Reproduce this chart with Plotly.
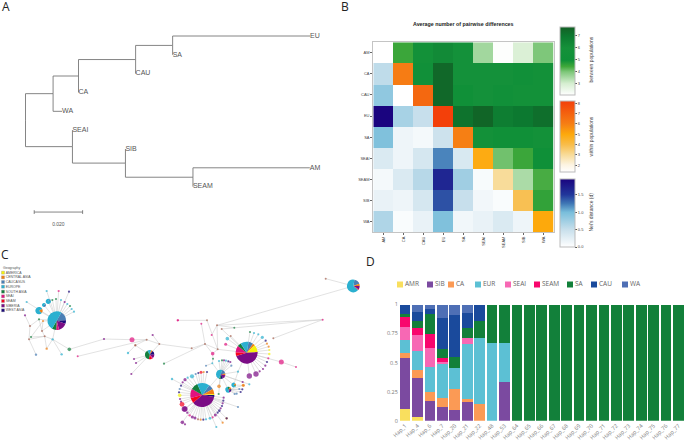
import plotly.graph_objects as go

W, H = 685, 440

def dx(a, b):
    return [a / W, b / W]

def dy(a, b):
    return [1 - b / H, 1 - a / H]

# ---------- Panel A: phylogram ----------
TREE_NAMES = ["root", "n1", "n2", "n3", "n4", "EU", "SA", "CAU", "CA", "WA",
              "n5", "SEAI", "n6", "SIB", "n7", "AM", "SEAM"]
TREE_PARENT = [None, "root", "n1", "n2", "n3", "n4", "n4", "n3", "n2", "n1",
               "root", "n5", "n5", "n6", "n6", "n7", "n7"]
TREE_LENGTH = [0, 0.0114, 0.0105, 0.0236, 0.0153, 0.0568, 0, 0, 0, 0.0037,
               0.0194, 0, 0.0219, 0, 0.0279, 0.0483, 0]
TIP_ORDER = ["EU", "SA", "CAU", "CA", "WA", "SEAI", "SIB", "AM", "SEAM"]

# ---------- Panel B: matrix ----------
POPS = ["AM", "CA", "CAU", "EU", "SA", "SEAI", "SEAM", "SIB", "WA"]
BETWEEN = [
    [None, 4.5, 5.6, 6.3, 5.9, 3.6, 2.1, 2.9, 4.0],
    [None, None, 5.3, 7.5, 5.8, 5.8, 5.9, 5.4, 5.6],
    [None, None, None, 7.5, 5.2, 5.9, 5.3, 5.6, 5.7],
    [None, None, None, None, 7.2, 7.6, 6.8, 7.0, 7.3],
    [None, None, None, None, None, 5.7, 5.2, 5.1, 5.6],
    [None, None, None, None, None, None, 4.1, 4.5, 5.0],
    [None, None, None, None, None, None, None, 3.5, 4.4],
    [None, None, None, None, None, None, None, None, 4.6],
    [None, None, None, None, None, None, None, None, None],
]
WITHIN = [1.35, 6.1, 6.8, 8.2, 6.0, 4.9, 3.0, 3.9, 5.0]
NEI = [
    [None] * 9,
    [0.55, None, None, None, None, None, None, None, None],
    [0.85, 0.0, None, None, None, None, None, None, None],
    [1.95, 0.70, 0.50, None, None, None, None, None, None],
    [0.95, 0.15, 0.10, 0.45, None, None, None, None, None],
    [0.33, 0.15, 0.38, 1.20, 0.35, None, None, None, None],
    [0.10, 0.33, 0.60, 1.65, 0.75, 0.07, None, None, None],
    [0.20, 0.15, 0.38, 1.40, 0.50, 0.12, 0.05, None, None],
    [0.65, 0.05, 0.20, 0.95, 0.13, 0.20, 0.33, 0.15, None],
]

# ---------- Panel D: haplotype composition ----------
HAPS = ["Hap_1", "Hap_4", "Hap_6", "Hap_7", "Hap_20", "Hap_21", "Hap_22", "Hap_48", "Hap_53",
        "Hap_64", "Hap_65", "Hap_66", "Hap_67", "Hap_68", "Hap_69", "Hap_70", "Hap_71",
        "Hap_72", "Hap_73", "Hap_74", "Hap_75", "Hap_76", "Hap_77"]
REST = [0] * 14
REST_SA = [1] * 14
AMR = [.10, .03, 0, 0, 0, 0, 0, 0, 0] + REST
SIB = [.44, .337, .166, .115, .09, .172, 0, 0, .333] + REST
CA = [.04, .066, .084, .08, .18, .011, .143, 0, 0] + REST
EUR = [.113, .163, .208, .305, .185, .473, .571, .667, .334] + REST
SEAI = [.112, .14, .167, .005, 0, .054, 0, 0, 0] + REST
SEAM = [.085, .058, .125, .035, 0, 0, 0, 0, 0] + REST
SA = [.03, .063, .167, .073, .09, .087, .143, .333, .333] + REST_SA
CAU = [.08, .08, .043, .272, .363, .128, .143, 0, 0] + REST
WA = [0, .063, .04, .115, .092, .075, 0, 0, 0] + REST
D_SERIES = [("AMR", AMR, "#f9df5e"), ("SIB", SIB, "#7b4aa0"), ("CA", CA, "#fb9a55"),
            ("EUR", EUR, "#5cc0d4"), ("SEAI", SEAI, "#f768b4"), ("SEAM", SEAM, "#f8066d"),
            ("SA", SA, "#12803a"), ("CAU", CAU, "#1a4a9c"), ("WA", WA, "#4e6fb5")]

# ---------- Panel C: haplotype network ----------
GEO = {"AM": "#f5f20b", "CE": "#f07f13", "CA": "#4a7fb5", "EU": "#2bb0d0", "SO": "#137f3d",
       "SI": "#e0127f", "SM": "#f5021e", "PU": "#7b0c85", "WE": "#1c0b7a", "BR": "#a5604f"}
GEO_NAMES = ["AMERICA", "CENTRAL ASIA", "CAUCASUS", "EUROPE", "SOUTH ASIA", "SEAI", "SEAM", "SIBERIA", "WEST ASIA"]
GEO_KEYS = ["AM", "CE", "CA", "EU", "SO", "SI", "SM", "PU", "WE"]

PIE_X = [170, 117, 132, 145, 449, 740, 607, 662, 685, 701, 1060]
PIE_Y = [227, 197, 180, 169, 329, 323, 450, 388, 434, 420, 123]
PIE_R = [28, 11, 6, 8, 14, 33, 36, 14, 9, 7, 19]
PIE_ROT = [30, 60, 60, 30, 330, 10, 35, 20, 30, 40, 10]
PIE_GEO = [
    ["CA", "WE", "PU", "SI", "SO", "EU"],
    ["CE", "EU"],
    ["CA", "EU"],
    ["CA", "EU"],
    ["EU", "CE", "WE", "PU", "SI", "SM", "SO"],
    ["CA", "CE", "AM", "PU", "SM", "SI", "SO", "EU"],
    ["CA", "CE", "AM", "WE", "PU", "SM", "SI", "SO", "EU"],
    ["CA", "CE", "PU", "WE", "SO", "EU"],
    ["CE", "WE", "PU", "EU", "SO"],
    ["CE", "SO", "EU"],
    ["CA", "CE", "PU", "SM", "EU"],
]
PIE_VAL = [
    [58, 22, 55, 18, 27, 180],
    [70, 290],
    [120, 240],
    [40, 320],
    [50, 20, 50, 45, 15, 40, 140],
    [25, 12, 40, 165, 20, 35, 20, 43],
    [25, 25, 5, 10, 130, 25, 45, 35, 60],
    [60, 20, 50, 30, 20, 180],
    [50, 40, 40, 190, 40],
    [60, 40, 260],
    [60, 20, 30, 10, 240],
]

# spokes: satellite nodes attached straight to a pie
HUB_A_X = [140, 176, 207, 194, 183, 168, 157, 202, 210, 215, 222, 80, 129, 117]
HUB_A_Y = [138, 138, 140, 171, 165, 162, 165, 177, 183, 192, 200, 171, 228, 223]
HUB_A_G = ["EU", "SI", "WE", "PU", "EU", "SO", "SO", "EU", "SO", "EU", "EU", "EU", "CE", "SO"]

HUB_C_X = [750, 762, 775, 787, 797, 801, 806, 808, 808, 805, 801, 796, 789, 779]
HUB_C_Y = [261, 264, 268, 277, 287, 296, 305, 315, 327, 340, 351, 362, 372, 379]
HUB_C_G = ["SO", "EU", "EU", "EU", "WE", "CE", "CE", "AM", "AM", "SI", "WE", "PU", "PU", "PU"]
HUB_C_S = [2.2, 2.2, 2.2, 3.2, 2.2, 2.2, 2.2, 2.2, 2.4, 2.2, 2.2, 2.2, 2.2, 2.2]

RING_X = [576, 563, 555, 548, 543, 539, 537, 539, 540, 543, 546, 553, 562, 569, 577, 585, 594, 602,
          610, 618, 630, 638, 646, 653, 658, 662, 666, 668, 670, 671, 587, 595, 603, 611, 621]
RING_Y = [394, 398, 404, 412, 422, 432, 442, 451, 462, 470, 478, 492, 503, 511, 516, 519, 523, 524,
          524, 523, 520, 517, 510, 503, 497, 490, 483, 475, 467, 458, 387, 384, 382, 381, 381]
RING_G = ["EU", "EU", "PU", "PU", "WE", "CA", "WE", "AM", "PU", "PU", "SM", "PU", "PU", "SI",
          "PU", "PU", "BR", "CE", "WE", "EU", "EU", "SI", "PU", "WE", "WE", "PU", "WE", "PU",
          "WE", "PU", "CA", "WE", "SM", "CE", "WE"]
RING_S = [4.2, 2.2, 3.2, 2.2, 2.2, 2.2, 2.2, 3.6, 2.2, 2.2, 4.8, 5.4, 2.4, 2.4, 3.2, 3, 2.2, 2.2,
          2.2, 2.2, 2.8, 2.2, 3, 2.2, 2.6, 2.2, 2.2, 2.2, 2.2, 2.2, 2.2, 2.2, 3, 2.2, 2.2]

HUB_E_X = [657, 666, 672, 678, 685, 691, 694, 714, 728, 748, 656]
HUB_E_Y = [348, 346, 346, 347, 349, 351, 362, 380, 411, 418, 447]
HUB_E_G = ["EU", "SO", "PU", "EU", "WE", "PU", "CA", "EU", "PU", "EU", "SO"]

HUB_F_X = [718, 710, 722, 727, 704, 730]
HUB_F_Y = [432, 446, 441, 433, 447, 421]
HUB_F_G = ["CA", "CA", "WE", "WE", "CA", "CE"]

HUB_M_X = [402, 408, 394, 406]
HUB_M_Y = [342, 354, 387, 301]
HUB_M_G = ["PU", "PU", "PU", "BR"]

FREE_X = [90, 93, 87, 126, 134, 158, 140, 108, 185, 208, 75, 312, 233, 396, 440, 406, 384, 458, 478,
          492, 533, 516, 977, 534, 621, 604, 651, 703, 665, 968, 635, 682, 692, 677, 820, 615, 575,
          653, 638, 639, 637, 618, 844, 888, 748, 768, 657, 730, 714, 547, 555, 649, 680, 668, 680, 555]
FREE_Y = [243, 276, 283, 258, 274, 283, 311, 329, 328, 313, 211, 282, 334, 284, 284, 301, 324, 270,
          297, 356, 226, 402, 101, 226, 226, 236, 241, 248, 252, 224, 270, 281, 273, 298, 280, 297,
          310, 313, 326, 341, 355, 362, 351, 366, 393, 387, 424, 421, 486, 532, 538, 546, 520, 533, 520, 492]
FREE_G = ["BR", "SO", "BR", "BR", "BR", "EU", "CE", "CA", "EU", "SO", "PU", "PU", "SI", "SI", "BR",
          "BR", "EU", "PU", "BR", "SO", "SI", "EU", "BR", "SI", "BR", "SI", "BR", "SO", "BR", "SI",
          "SI", "EU", "BR", "SI", "BR", "BR", "BR", "BR", "SI", "SO", "EU", "CA", "SI", "SI", "PU",
          "PU", "CE", "CE", "CA", "PU", "PU", "EU", "CE", "CE", "WE", "PU"]
FREE_S = [2.2, 2.2, 2, 2, 2, 2.4, 2.4, 2.4, 2.4, 3.6, 2.2, 2.2, 2, 5, 2, 2, 2.4, 2.2, 2, 2.2, 2.2,
          2.4, 2, 2, 2, 2, 2, 2, 2, 2, 2, 3.6, 2, 3, 2, 2, 2, 2, 3.6, 2, 2, 2, 5, 2, 5.4, 5.4, 3.6,
          3.2, 2.2, 3.6, 2.2, 2.2, 2.4, 2.2, 2.2, 5.4]

EDGE_A = [(117, 223, 90, 243), (90, 243, 87, 283), (93, 276, 129, 228), (87, 283, 134, 274), (93, 276, 134, 274),
          (134, 274, 140, 311), (87, 283, 108, 329), (134, 274, 158, 283), (158, 283, 140, 311), (158, 283, 185, 328),
          (158, 283, 208, 313), (75, 211, 90, 243), (129, 228, 126, 258), (126, 258, 117, 223), (126, 258, 134, 274),
          (170, 227, 158, 283), (170, 227, 126, 258), (208, 313, 312, 282), (312, 282, 396, 284), (396, 284, 440, 284),
          (233, 334, 440, 284), (406, 301, 440, 284), (406, 301, 384, 324), (458, 270, 478, 297), (440, 284, 478, 297),
          (449, 329, 478, 297), (170, 227, 117, 197), (170, 227, 132, 180), (170, 227, 145, 169),
          (1060, 123, 977, 101), (1060, 123, 651, 241), (651, 241, 968, 224), (665, 252, 968, 224), (968, 224, 820, 280),
          (534, 226, 621, 226), (621, 226, 653, 313), (604, 236, 615, 297), (651, 241, 653, 313), (651, 241, 635, 270),
          (651, 241, 703, 248), (665, 252, 740, 323), (615, 297, 653, 313), (575, 310, 615, 297), (478, 297, 575, 310),
          (492, 356, 615, 297), (653, 313, 740, 323), (638, 326, 653, 313), (615, 297, 638, 326), (638, 326, 639, 341),
          (639, 341, 637, 355), (637, 355, 618, 362), (637, 355, 662, 388), (662, 388, 607, 450), (662, 388, 685, 434),
          (701, 420, 662, 388), (740, 323, 714, 380), (714, 380, 701, 420), (844, 351, 888, 366), (740, 323, 844, 351),
          (516, 402, 607, 450), (607, 450, 714, 486), (607, 450, 547, 532), (547, 532, 555, 538), (607, 450, 649, 546),
          (607, 450, 680, 520), (607, 450, 668, 533), (607, 450, 555, 492), (740, 323, 748, 393), (740, 323, 768, 387),
          (662, 388, 657, 424), (701, 420, 730, 421), (740, 323, 682, 281), (740, 323, 692, 273), (740, 323, 677, 298)]

# ---------- figure ----------
fig = go.Figure()

# A
parent = dict(zip(TREE_NAMES, TREE_PARENT))
blen = dict(zip(TREE_NAMES, TREE_LENGTH))
xpos, ypos = {}, {}
for n in TREE_NAMES:
    xpos[n] = (xpos[parent[n]] if parent[n] else 0) + blen[n]
for i, t in enumerate(TIP_ORDER):
    ypos[t] = i
for n in reversed(TREE_NAMES):
    kids = [k for k in TREE_NAMES if parent[k] == n]
    if kids:
        ypos[n] = sum(ypos[k] for k in kids) / len(kids)
tx, ty = [], []
for n in TREE_NAMES:
    p = parent[n]
    if p:
        tx += [xpos[p], xpos[p], xpos[n], None]
        ty += [ypos[p], ypos[n], ypos[n], None]
fig.add_trace(go.Scatter(x=tx, y=ty, mode="lines", line=dict(color="#777777", width=0.9),
                         xaxis="x", yaxis="y", hoverinfo="skip", showlegend=False))
fig.add_trace(go.Scatter(x=[xpos[t] for t in TIP_ORDER], y=[ypos[t] for t in TIP_ORDER], mode="text",
                         text=TIP_ORDER, textposition="middle right",
                         textfont=dict(family="Liberation Sans", size=7, color="#555555"),
                         xaxis="x", yaxis="y", hoverinfo="skip", showlegend=False))
SCALE_LEN = 0.020
sby = 9.35
sbx = [0.0036, 0.0036 + SCALE_LEN]
fig.add_trace(go.Scatter(x=[sbx[0], sbx[1], None, sbx[0], sbx[0], None, sbx[1], sbx[1]],
                         y=[sby, sby, None, sby - .1, sby + .1, None, sby - .1, sby + .1],
                         mode="lines", line=dict(color="#666666", width=0.8), xaxis="x", yaxis="y",
                         hoverinfo="skip", showlegend=False))
fig.add_trace(go.Scatter(x=[sbx[0] + SCALE_LEN / 2], y=[sby + .66], mode="text", text=["0.020"],
                         textfont=dict(family="Liberation Sans", size=5, color="#555555"),
                         xaxis="x", yaxis="y", hoverinfo="skip", showlegend=False))

# B
def cbar(top, bottom, tickvals, ticktext=None):
    return dict(x=560.3 / W, xanchor="left", xpad=0, y=1 - top / H, yanchor="top", ypad=0,
                len=(bottom - top) / H, lenmode="fraction", thickness=14.7, thicknessmode="pixels",
                outlinecolor="#bbbbbb", outlinewidth=1, borderwidth=0,
                tickvals=tickvals, ticktext=ticktext, ticks="outside", ticklen=2, tickwidth=0.5,
                tickcolor="#555555", tickfont=dict(family="Liberation Sans", size=4, color="#444444"))

GREEN = [[0, "#ffffff"], [0.17, "#d5eed0"], [0.34, "#7ec77a"], [0.42, "#3fa83a"], [0.51, "#0f9038"],
         [0.69, "#15913a"], [0.86, "#0c7a30"], [1, "#135f25"]]
ORANGE = [[0, "#ffffff"], [0.10, "#fdf4e2"], [0.24, "#f8dc9a"], [0.385, "#f8bd4b"], [0.53, "#fda90c"],
          [0.68, "#f67e14"], [0.83, "#f4610f"], [1, "#f33f0a"]]
BLUE = [[0, "#ffffff"], [0.25, "#c9e0ec"], [0.51, "#79bedb"], [0.64, "#3f77b5"], [0.77, "#21379b"], [1, "#1a047f"]]

fig.add_trace(go.Heatmap(z=BETWEEN, x=POPS, y=POPS, colorscale=GREEN, zmin=2.06, zmax=7.78,
                         colorbar=cbar(26.7, 95, [3, 4, 5, 6, 7]), xaxis="x2", yaxis="y2", hoverongaps=False))
within_z = [[WITHIN[i] if i == j else None for j in range(9)] for i in range(9)]
fig.add_trace(go.Heatmap(z=within_z, x=POPS, y=POPS, colorscale=ORANGE, zmin=1.35, zmax=8.22,
                         colorbar=cbar(101, 172, [2, 3, 4, 5, 6, 7, 8]), xaxis="x2", yaxis="y2", hoverongaps=False))
fig.add_trace(go.Heatmap(z=NEI, x=POPS, y=POPS, colorscale=BLUE, zmin=0, zmax=1.95,
                         colorbar=cbar(179, 246.7, [0, 0.5, 1.0, 1.5], ["0.0", "0.5", "1.0", "1.5"]),
                         xaxis="x2", yaxis="y2", hoverongaps=False))

# C
for i in range(len(PIE_X)):
    cx, cy, r = PIE_X[i] / 3, 245 + PIE_Y[i] / 3, PIE_R[i] / 3
    fig.add_trace(go.Pie(values=PIE_VAL[i], labels=[GEO_NAMES[GEO_KEYS.index(g)] for g in PIE_GEO[i]],
                         marker=dict(colors=[GEO[g] for g in PIE_GEO[i]], line=dict(width=0)),
                         sort=False, direction="clockwise", rotation=PIE_ROT[i], textinfo="none",
                         domain=dict(x=dx(cx - r, cx + r), y=dy(cy - r, cy + r)), showlegend=False))

ex, ey = [], []
for a, b, c, d in EDGE_A:
    ex += [a, c, None]
    ey += [b, d, None]
for hub, xs, ys in [(0, HUB_A_X, HUB_A_Y), (5, HUB_C_X, HUB_C_Y), (6, RING_X, RING_Y), (7, HUB_E_X, HUB_E_Y),
                    (8, HUB_F_X, HUB_F_Y), (4, HUB_M_X, HUB_M_Y)]:
    for x, y in zip(xs, ys):
        ex += [PIE_X[hub], x, None]
        ey += [PIE_Y[hub], y, None]
fig.add_trace(go.Scatter(x=ex, y=ey, mode="lines", line=dict(color="#cfcfcf", width=0.6), xaxis="x4", yaxis="y4",
                         hoverinfo="skip", showlegend=False))
nx = HUB_A_X + HUB_C_X + RING_X + HUB_E_X + HUB_F_X + HUB_M_X + FREE_X
ny = HUB_A_Y + HUB_C_Y + RING_Y + HUB_E_Y + HUB_F_Y + HUB_M_Y + FREE_Y
ng = HUB_A_G + HUB_C_G + RING_G + HUB_E_G + HUB_F_G + HUB_M_G + FREE_G
ns = [2.2] * len(HUB_A_X) + HUB_C_S + RING_S + [2.2] * len(HUB_E_X) + [2.2] * len(HUB_F_X) + [2.2] * len(HUB_M_X) + FREE_S
fig.add_trace(go.Scatter(x=nx, y=ny, mode="markers", marker=dict(color=[GEO[g] for g in ng], size=ns, line=dict(width=0)),
                         xaxis="x4", yaxis="y4", hoverinfo="skip", showlegend=False))
# C legend
leg_y = [83, 97, 111, 125, 140, 154, 168, 182, 196]
fig.add_trace(go.Scatter(x=[9] * 9, y=leg_y, mode="markers",
                         marker=dict(symbol="square", size=3, color=[GEO[k] for k in GEO_KEYS],
                                     line=dict(color="#888888", width=0.3)),
                         xaxis="x4", yaxis="y4", hoverinfo="skip", showlegend=False))
fig.add_trace(go.Scatter(x=[17] * 9, y=leg_y, mode="text", text=GEO_NAMES, textposition="middle right",
                         textfont=dict(family="Liberation Sans", size=3.5, color="#555555"),
                         xaxis="x4", yaxis="y4", hoverinfo="skip", showlegend=False))

# D
for name, vals, col in D_SERIES:
    fig.add_trace(go.Bar(x=HAPS, y=vals, name=name, marker=dict(color=col, line=dict(width=0)),
                         xaxis="x3", yaxis="y3", showlegend=False))
LEG_PX = [400, 430, 451, 478, 508, 537, 570, 594, 625]
fig.add_trace(go.Scatter(x=LEG_PX, y=[284.5] * 9, mode="markers",
                         marker=dict(symbol="square", size=6, color=[s[2] for s in D_SERIES]),
                         xaxis="x5", yaxis="y5", hoverinfo="skip", showlegend=False))
fig.add_trace(go.Scatter(x=[p + 5 for p in LEG_PX], y=[284.5] * 9, mode="text", text=[s[0] for s in D_SERIES],
                         textposition="middle right",
                         textfont=dict(family="Open Sans", size=6.5, color="#666666"),
                         xaxis="x5", yaxis="y5", hoverinfo="skip", showlegend=False))

def hidden(domain, rng, anchor):
    return dict(domain=domain, range=rng, visible=False, anchor=anchor, fixedrange=True)

ann_font = dict(family="Liberation Sans", size=5, color="#444444")
annots = [dict(x=a / W, y=1 - b / H, xref="paper", yref="paper", text=t, showarrow=False, xanchor="center", yanchor="middle",
               font=dict(family="Open Sans", size=12, color="#222222"))
          for t, a, b in [("A", 6, 7), ("B", 344.5, 7), ("C", 4.5, 254), ("D", 370, 261)]]
annots.append(dict(x=463.5 / W, y=1 - 24 / H, xref="paper", yref="paper", text="<b>Average number of pairwise differences</b>",
                   showarrow=False, xanchor="center", yanchor="middle", font=dict(family="Liberation Sans", size=5.3, color="#222222")))
for t, yc, xc in [("between populations", 60, 590.5), ("within populations", 137, 590.5), ("Nei's distance (d)", 212, 590.5)]:
    annots.append(dict(x=xc / W, y=1 - yc / H, xref="paper", yref="paper", text=t, textangle=-90, showarrow=False,
                       xanchor="center", yanchor="middle", font=ann_font))
annots.append(dict(x=1 / W, y=1 - 268.3 / H, xref="paper", yref="paper", xanchor="left", yanchor="middle", text="Geography", showarrow=False,
                   font=dict(family="Liberation Sans", size=3.5, color="#555555")))

layout = dict(
    width=W, height=H, margin=dict(l=0, r=0, t=0, b=0), paper_bgcolor="white", plot_bgcolor="rgba(0,0,0,0)",
    barmode="stack", bargap=0.14, annotations=annots,
    xaxis=hidden(dx(0, 340), [-25.5 / 2420, 314.5 / 2420], "y"),
    yaxis=hidden(dy(0, 240), [(240 - 36) / 18.83, -36 / 18.83], "x"),
    xaxis2=dict(domain=dx(373.3, 553.7), anchor="y2", side="bottom", type="category", categoryarray=POPS, tickangle=-90,
                tickfont=dict(family="Liberation Sans", size=4, color="#444444"), ticks="outside", ticklen=2, tickwidth=0.5,
                tickcolor="#666666", showline=True, linecolor="#c4c4c4", linewidth=1, mirror=True, showgrid=False, zeroline=False),
    yaxis2=dict(domain=dy(42.3, 232), anchor="x2", type="category", categoryarray=POPS, autorange="reversed",
                tickfont=dict(family="Liberation Sans", size=4, color="#444444"), ticks="outside", ticklen=2, tickwidth=0.5,
                tickcolor="#666666", showline=True, linecolor="#c4c4c4", linewidth=1, mirror=True, showgrid=False, zeroline=False),
    xaxis3=dict(domain=dx(398.8, 684.7), anchor="y3", type="category", tickangle=-45, ticks="", showgrid=False, zeroline=False,
                showline=False, tickfont=dict(family="Open Sans", size=5.5, color="#777777"), automargin=False),
    yaxis3=dict(domain=dy(304.5, 420.7), anchor="x3", range=[0, 1], tickvals=[0, .25, .5, .75, 1], ticktext=["0", "0.25", "0.5", "0.75", "1"],
                showgrid=False, zeroline=False, showline=False, ticks="", tickfont=dict(family="Open Sans", size=5.5, color="#777777"), automargin=False),
    xaxis4=hidden([0, 370 / W], [0, 1110], "y4"),
    yaxis4=hidden(dy(245, 440), [585, 0], "x4"),
    xaxis5=hidden([0, 1], [0, W], "y5"),
    yaxis5=hidden([0, 1], [H, 0], "x5"),
)
fig.update_layout(**layout)
fig.write_html("out.html", config=dict(displayModeBar=False),
               post_script="document.body.style.margin='0';document.body.style.overflow='hidden';")
